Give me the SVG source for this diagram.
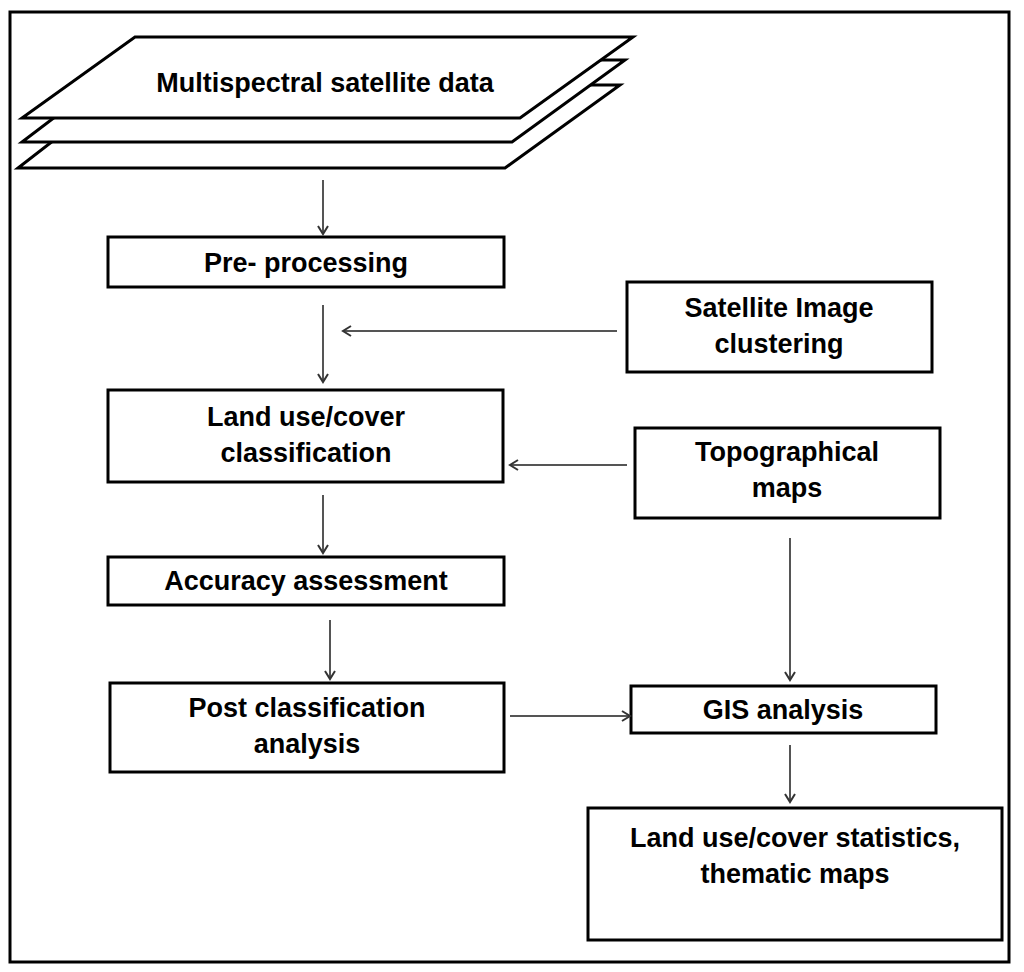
<svg xmlns="http://www.w3.org/2000/svg" width="1024" height="972" viewBox="0 0 1024 972">
<style>
.box{fill:#fff;stroke:#000;stroke-width:3}
.t{font-family:"Liberation Sans",Arial,sans-serif;font-weight:bold;font-size:27px;text-anchor:middle;fill:#000}
.c{stroke:#555;stroke-width:2;fill:none;marker-end:url(#a)}
</style>
<defs><marker id="a" markerWidth="12" markerHeight="12" refX="10" refY="6" orient="auto" markerUnits="userSpaceOnUse"><path d="M2,1 L10,6 L2,11" fill="none" stroke="#333" stroke-width="2"/></marker></defs>
<rect width="1024" height="972" fill="#fff"/>
<rect x="10" y="12" width="999" height="950" fill="none" stroke="#000" stroke-width="3"/>
<g id="n-multispectral">
<polygon class="box" stroke-width="2" points="125,85 620,85 505,168 18,168"/>
<polygon class="box" stroke-width="2" points="130,60 625,60 512,142 22,142"/>
<polygon class="box" stroke-width="2" points="135,37 633,37 520,118 22,118"/>
<text class="t" x="325" y="92">Multispectral satellite data</text>
</g>
<g id="n-pre"><rect class="box" x="108" y="237" width="396" height="50"/><text class="t" x="306" y="272">Pre- processing</text></g>
<g id="n-sat"><rect class="box" x="627" y="282" width="305" height="90"/><text class="t" x="779" y="317">Satellite Image</text><text class="t" x="779" y="353">clustering</text></g>
<g id="n-land"><rect class="box" x="108" y="390" width="395" height="92"/><text class="t" x="306" y="426">Land use/cover</text><text class="t" x="306" y="462">classification</text></g>
<g id="n-topo"><rect class="box" x="635" y="428" width="305" height="90"/><text class="t" x="787" y="461">Topographical</text><text class="t" x="787" y="497">maps</text></g>
<g id="n-acc"><rect class="box" x="108" y="557" width="396" height="48"/><text class="t" x="306" y="590">Accuracy assessment</text></g>
<g id="n-post"><rect class="box" x="110" y="683" width="394" height="89"/><text class="t" x="307" y="717">Post classification</text><text class="t" x="307" y="753">analysis</text></g>
<g id="n-gis"><rect class="box" x="631" y="686" width="305" height="47"/><text class="t" x="783" y="719">GIS analysis</text></g>
<g id="n-stats"><rect class="box" x="588" y="808" width="414" height="132"/><text class="t" x="795" y="847">Land use/cover statistics,</text><text class="t" x="795" y="883">thematic maps</text></g>
<g id="connectors">
<line class="c" x1="323" y1="180" x2="323" y2="234"/>
<line class="c" x1="323" y1="305" x2="323" y2="382"/>
<line class="c" x1="617" y1="331" x2="343" y2="331"/>
<line class="c" x1="627" y1="465" x2="510" y2="465"/>
<line class="c" x1="323" y1="495" x2="323" y2="553"/>
<line class="c" x1="330" y1="620" x2="330" y2="679"/>
<line class="c" x1="510" y1="716" x2="630" y2="716"/>
<line class="c" x1="790" y1="538" x2="790" y2="680"/>
<line class="c" x1="790" y1="745" x2="790" y2="802"/>
</g>
</svg>
